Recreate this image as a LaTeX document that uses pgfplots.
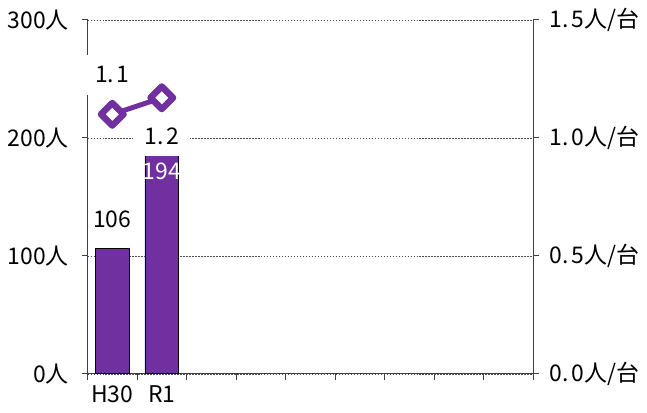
\documentclass[border=0pt]{standalone}
\usepackage{fontspec}
\setmainfont{Noto Sans CJK JP}
\usepackage{pgfplots}
\pgfplotsset{compat=1.18}
\definecolor{purp}{HTML}{7030A0}
\newcommand\dt{.\kern0.12em}
\begin{document}
\fontsize{23}{27}\selectfont
\begin{tikzpicture}
\pgfplotsset{
  common/.style={
    width=447pt, height=355pt, scale only axis,
    xmin=-0.5, xmax=8.5,
    tick align=outside, major tick length=6pt,
    every tick/.style={black!75, line width=0.9pt},
    axis line style={black!75, line width=1.1pt},
    clip=false,
  }
}
\begin{axis}[common,
  ymin=0, ymax=300,
  axis y line*=left, axis x line*=bottom,
  xtick={-0.5,0.5,...,8.5}, xticklabels={},
  extra x ticks={0,1}, extra x tick labels={H30,R1},
  extra x tick style={major tick length=0pt, grid=none,
     xticklabel style={yshift=-4pt}},
  ytick={0,100,200,300}, yticklabels={0人,100人,200人,300人},
  yticklabel style={xshift=-5pt},
  ymajorgrids,
  grid style={black!70, line width=0.6pt, dash pattern=on 1.5pt off 1.5pt},
  ybar, bar width=34pt,
]
\addplot[fill=purp, draw=black, line width=0.7pt] coordinates {(0,106) (1,194)};
\node at (axis cs:0,131) {106};
\node[text=white] at (axis cs:1,171.5) {194};
\end{axis}
\begin{axis}[common,
  ymin=0, ymax=1.5,
  axis y line*=right, axis x line=none,
  ytick={0,0.5,1,1.5},
  yticklabels={0\dt 0人/台,0\dt 5人/台,1\dt 0人/台,1\dt 5人/台},
  yticklabel style={xshift=3pt},
]
\addplot[color=purp, line width=5pt, mark=square*,
  mark options={fill=white, draw=purp, line width=6.5pt, rotate=45, line join=round},
  mark size=8pt] coordinates {(0,1.1) (1,1.17)};
\node[fill=white, minimum width=57pt, minimum height=40pt, inner sep=0pt] at (axis cs:0,1.268) {1\dt 1};
\node[fill=white, minimum width=57pt, minimum height=40pt, inner sep=0pt] at (axis cs:1,1.006) {1\dt 2};
\end{axis}
\path (-87pt,-39pt) rectangle (560pt,375pt);
\end{tikzpicture}
\end{document}
